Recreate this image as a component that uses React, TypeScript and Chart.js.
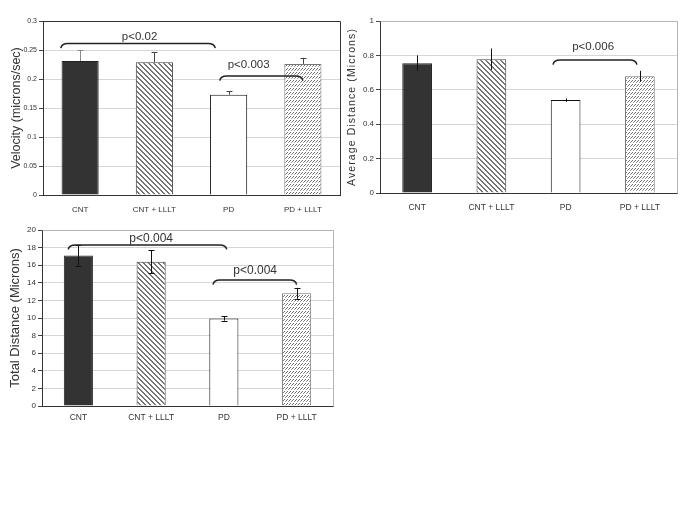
import React, { useEffect, useRef } from 'react';
import { Chart, registerables } from 'chart.js';

Chart.register(...registerables);

// ---------- data ----------
const categories = ['CNT', 'CNT + LLLT', 'PD', 'PD + LLLT'];

const velocity = [0.231, 0.229, 0.173, 0.226];
const velocityErr = [0.019, 0.017, 0.006, 0.0105];
const velocityTicks = { min: 0, max: 0.3, step: 0.05 };

const avgDistance = [0.755, 0.778, 0.54, 0.679];
const avgDistanceErr = [0.045, 0.062, 0.01, 0.031];
const avgDistanceTicks = { min: 0, max: 1, step: 0.2 };

const totalDistance = [17.1, 16.4, 9.95, 12.8];
const totalDistanceErr = [1.15, 1.3, 0.25, 0.62];
const totalDistanceTicks = { min: 0, max: 20, step: 2 };

// significance brackets: category-unit x positions, data-unit y positions
const velocityBrackets = [
  { from: -0.26, to: 1.82, y: 0.261, label: 'p<0.02', labelX: 0.8, labelY: 0.272 },
  { from: 1.88, to: 3.0, y: 0.205, label: 'p<0.003', labelX: 2.27, labelY: 0.224 },
];
const avgDistanceBrackets = [
  { from: 1.83, to: 2.96, y: 0.773, label: 'p<0.006', labelX: 2.37, labelY: 0.85 },
];
const totalDistanceBrackets = [
  { from: -0.14, to: 2.04, y: 18.3, label: 'p<0.004', labelX: 1.0, labelY: 18.97 },
  { from: 1.85, to: 3.0, y: 14.31, label: 'p<0.004', labelX: 2.43, labelY: 15.33 },
];

// ---------- patterns ----------
function stripePattern(): CanvasPattern | string {
  const t = document.createElement('canvas');
  t.width = 5; t.height = 5;
  const c = t.getContext('2d')!;
  c.fillStyle = '#ffffff';
  c.fillRect(0, 0, 5, 5);
  c.fillStyle = '#767676';
  for (let y = 0; y < 5; y++) {
    for (let x = 0; x < 5; x++) {
      if (((x - y + 10) % 5) < 2) c.fillRect(x, y, 1, 1);
    }
  }
  const ctx = document.createElement('canvas').getContext('2d')!;
  return ctx.createPattern(t, 'repeat') || '#aaa';
}

function dashPattern(): CanvasPattern | string {
  const t = document.createElement('canvas');
  t.width = 3; t.height = 4;
  const c = t.getContext('2d')!;
  c.fillStyle = '#ffffff';
  c.fillRect(0, 0, 3, 4);
  c.fillStyle = '#6e6e6e';
  c.fillRect(2, 0, 1, 1);
  c.fillRect(1, 1, 1, 1);
  c.fillStyle = '#9a9a9a';
  c.fillRect(0, 2, 1, 1);
  const ctx = document.createElement('canvas').getContext('2d')!;
  return ctx.createPattern(t, 'repeat') || '#ccc';
}

type Bracket = { from: number; to: number; y: number; label: string; labelX: number; labelY: number };
type FontSpec = { family: string; size: number };

type Cfg = {
  values: number[];
  errors: number[];
  ticks: { min: number; max: number; step: number };
  fmt: (v: number) => string;
  title: string;
  titleX: number;
  titleFont: string;
  titleSpacing: string;
  tickFont: FontSpec;
  catFont: FontSpec;
  barPct: number;
  padding: { top: number; right: number; left: number; bottom: number };
  yWidth: number;
  xHeight: number;
  xPad: number;
  topRightColor: string;
  errMode: 'up' | 'both';
  cap: number;
  errColors: string[];
  brackets: Bracket[];
  pFont: string;
};

function buildChart(canvas: HTMLCanvasElement, cfg: Cfg): Chart {
  const fills = ['#333333', stripePattern(), '#ffffff', dashPattern()];
  const borders = ['#222222', '#444444', '#111111', '#777777'];

  const plugin = {
    id: 'extras',
    afterDatasetsDraw(chart: any) {
      const ctx: CanvasRenderingContext2D = chart.ctx;
      const ca = chart.chartArea;
      const xs = chart.scales.x;
      const ys = chart.scales.y;
      ctx.save();
      // frame top/right
      ctx.strokeStyle = cfg.topRightColor;
      ctx.lineWidth = 1;
      ctx.beginPath();
      ctx.moveTo(Math.round(ca.left) + 0.5, Math.round(ca.top) + 0.5);
      ctx.lineTo(Math.round(ca.right) + 0.5, Math.round(ca.top) + 0.5);
      ctx.lineTo(Math.round(ca.right) + 0.5, Math.round(ca.bottom) + 0.5);
      ctx.stroke();

      // error bars
      const meta = chart.getDatasetMeta(0);
      meta.data.forEach((el: any, i: number) => {
        const v = cfg.values[i];
        const e = cfg.errors[i];
        const x = Math.round(el.x) + 0.5;
        const yTop = ys.getPixelForValue(v + e);
        const yBot = cfg.errMode === 'both' ? ys.getPixelForValue(v - e) : ys.getPixelForValue(v);
        ctx.strokeStyle = cfg.errColors[i];
        ctx.lineWidth = 1;
        ctx.beginPath();
        ctx.moveTo(x, yTop);
        ctx.lineTo(x, yBot);
        if (cfg.cap > 0) {
          ctx.moveTo(x - cfg.cap, Math.round(yTop) + 0.5);
          ctx.lineTo(x + cfg.cap, Math.round(yTop) + 0.5);
          if (cfg.errMode === 'both') {
            ctx.moveTo(x - cfg.cap, Math.round(yBot) + 0.5);
            ctx.lineTo(x + cfg.cap, Math.round(yBot) + 0.5);
          }
        }
        ctx.stroke();
      });

      // brackets
      cfg.brackets.forEach((b) => {
        const x1 = xs.getPixelForValue(b.from);
        const x2 = xs.getPixelForValue(b.to);
        const y = ys.getPixelForValue(b.y);
        const r = 7;
        const d = 4.5;
        ctx.strokeStyle = '#222222';
        ctx.lineWidth = 1.5;
        ctx.beginPath();
        ctx.moveTo(x1, y + d);
        ctx.quadraticCurveTo(x1 + 1, y, x1 + r, y);
        ctx.lineTo(x2 - r, y);
        ctx.quadraticCurveTo(x2 - 1, y, x2, y + d);
        ctx.stroke();
        ctx.fillStyle = '#333333';
        ctx.font = cfg.pFont;
        ctx.textAlign = 'center';
        ctx.textBaseline = 'middle';
        ctx.fillText(b.label, xs.getPixelForValue(b.labelX), ys.getPixelForValue(b.labelY));
      });

      // y title
      ctx.fillStyle = '#333333';
      ctx.font = cfg.titleFont;
      (ctx as any).letterSpacing = cfg.titleSpacing;
      ctx.textAlign = 'center';
      ctx.textBaseline = 'middle';
      ctx.translate(cfg.titleX, (ca.top + ca.bottom) / 2);
      ctx.rotate(-Math.PI / 2);
      ctx.fillText(cfg.title, 0, 0);
      ctx.restore();
    },
  };

  return new Chart(canvas, {
    type: 'bar',
    data: {
      labels: categories,
      datasets: [
        {
          data: cfg.values,
          backgroundColor: fills as any,
          borderColor: borders,
          borderWidth: 1,
          barPercentage: cfg.barPct,
          categoryPercentage: 1,
        },
      ],
    },
    options: {
      responsive: false,
      animation: false,
      devicePixelRatio: 1,
      layout: { padding: cfg.padding },
      plugins: { legend: { display: false }, tooltip: { enabled: false }, title: { display: false } },
      scales: {
        x: {
          grid: { display: false, drawTicks: false },
          border: { display: true, color: '#333333' },
          ticks: { font: cfg.catFont as any, color: '#333333', padding: cfg.xPad, maxRotation: 0, autoSkip: false },
          afterFit: (s: any) => { s.height = cfg.xHeight; },
        },
        y: {
          min: cfg.ticks.min,
          max: cfg.ticks.max,
          ticks: {
            stepSize: cfg.ticks.step,
            font: cfg.tickFont as any,
            color: '#333333',
            padding: 2,
            callback: (v: any) => cfg.fmt(Number(v)),
          },
          grid: { color: '#d6d6d6', tickColor: '#444444', tickLength: 4 },
          border: { display: true, color: '#333333' },
          afterFit: (s: any) => { s.width = cfg.yWidth; },
        },
      },
    },
    plugins: [plugin],
  });
}

const sans = '"Liberation Sans", Arial, sans-serif';

const fmt2 = (v: number) => String(Number(v.toFixed(2)));

const cfgs: Cfg[] = [
  {
    values: velocity,
    errors: velocityErr,
    ticks: velocityTicks,
    fmt: fmt2,
    title: 'Velocity (microns/sec)',
    titleX: 17,
    titleFont: `12.5px ${sans}`,
    titleSpacing: '0px',
    tickFont: { family: sans, size: 7 },
    catFont: { family: sans, size: 8 },
    barPct: 0.5,
    padding: { top: 21, right: 5, left: 0, bottom: 0 },
    yWidth: 43,
    xHeight: 20,
    xPad: 10,
    topRightColor: '#333333',
    errMode: 'up',
    cap: 3,
    errColors: ['#8a8a8a', '#444444', '#444444', '#444444'],
    brackets: velocityBrackets,
    pFont: `11.5px ${sans}`,
  },
  {
    values: avgDistance,
    errors: avgDistanceErr,
    ticks: avgDistanceTicks,
    fmt: fmt2,
    title: 'Average Distance (Microns)',
    titleX: 7,
    titleFont: `10.5px ${sans}`,
    titleSpacing: '1.1px',
    tickFont: { family: sans, size: 8 },
    catFont: { family: sans, size: 8.5 },
    barPct: 0.4,
    padding: { top: 21, right: 8, left: 0, bottom: 0 },
    yWidth: 35,
    xHeight: 22,
    xPad: 10,
    topRightColor: '#b5b5b5',
    errMode: 'both',
    cap: 0,
    errColors: ['#111111', '#111111', '#111111', '#111111'],
    brackets: avgDistanceBrackets,
    pFont: `11.5px ${sans}`,
  },
  {
    values: totalDistance,
    errors: totalDistanceErr,
    ticks: totalDistanceTicks,
    fmt: (v: number) => String(v),
    title: 'Total Distance (Microns)',
    titleX: 15,
    titleFont: `13px ${sans}`,
    titleSpacing: '0px',
    tickFont: { family: sans, size: 8 },
    catFont: { family: sans, size: 8.5 },
    barPct: 0.4,
    padding: { top: 15, right: 12, left: 0, bottom: 0 },
    yWidth: 42,
    xHeight: 29,
    xPad: 7,
    topRightColor: '#b5b5b5',
    errMode: 'both',
    cap: 3,
    errColors: ['#111111', '#111111', '#111111', '#111111'],
    brackets: totalDistanceBrackets,
    pFont: `12px ${sans}`,
  },
];

const boxes = [
  { left: 0, top: 0, width: 345, height: 215 },
  { left: 345, top: 0, width: 340, height: 215 },
  { left: 0, top: 215, width: 345, height: 220 },
];

export default function App() {
  const r0 = useRef<HTMLCanvasElement>(null);
  const r1 = useRef<HTMLCanvasElement>(null);
  const r2 = useRef<HTMLCanvasElement>(null);
  const refs = [r0, r1, r2];

  useEffect(() => {
    const charts: Chart[] = [];
    refs.forEach((r, i) => {
      if (r.current) charts.push(buildChart(r.current, cfgs[i]));
    });
    return () => charts.forEach((c) => c.destroy());
  }, []);

  return (
    <div style={{ position: 'absolute', left: 0, top: 0, width: 685, height: 513, background: '#ffffff', overflow: 'hidden' }}>
      {boxes.map((b, i) => (
        <canvas
          key={i}
          ref={refs[i]}
          width={b.width}
          height={b.height}
          style={{ position: 'absolute', left: b.left, top: b.top, width: b.width, height: b.height }}
        />
      ))}
    </div>
  );
}
